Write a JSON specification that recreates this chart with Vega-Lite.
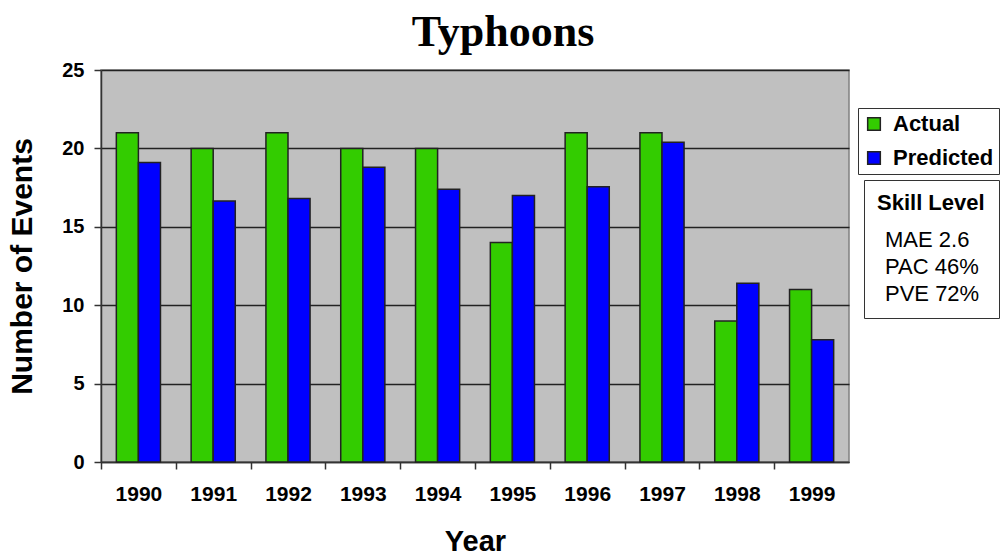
{
  "$schema": "https://vega.github.io/schema/vega-lite/v6.json",
  "width": 748,
  "height": 392,
  "autosize": "none",
  "padding": {"left": 101, "top": 70, "right": 151, "bottom": 97},
  "background": "white",
  "view": {"fill": "#c0c0c0", "stroke": "#808080", "strokeWidth": 1.5},
  "title": {
    "text": "Typhoons",
    "font": "Liberation Serif",
    "fontSize": 44,
    "fontWeight": "bold",
    "color": "black",
    "anchor": "middle",
    "dx": 28,
    "offset": 5
  },
  "config": {
    "view": {"fill": "#c0c0c0", "stroke": "#808080", "strokeWidth": 1.5},
    "font": "Liberation Sans"
  },
  "datasets": {
    "bars": [
      {"year": "1990", "series": "Actual", "events": 21},
      {"year": "1990", "series": "Predicted", "events": 19.1},
      {"year": "1991", "series": "Actual", "events": 20},
      {"year": "1991", "series": "Predicted", "events": 16.65},
      {"year": "1992", "series": "Actual", "events": 21},
      {"year": "1992", "series": "Predicted", "events": 16.8},
      {"year": "1993", "series": "Actual", "events": 20},
      {"year": "1993", "series": "Predicted", "events": 18.8},
      {"year": "1994", "series": "Actual", "events": 20},
      {"year": "1994", "series": "Predicted", "events": 17.4},
      {"year": "1995", "series": "Actual", "events": 14},
      {"year": "1995", "series": "Predicted", "events": 17.0},
      {"year": "1996", "series": "Actual", "events": 21},
      {"year": "1996", "series": "Predicted", "events": 17.55},
      {"year": "1997", "series": "Actual", "events": 21},
      {"year": "1997", "series": "Predicted", "events": 20.4},
      {"year": "1998", "series": "Actual", "events": 9},
      {"year": "1998", "series": "Predicted", "events": 11.4},
      {"year": "1999", "series": "Actual", "events": 11},
      {"year": "1999", "series": "Predicted", "events": 7.8}
    ],
    "skill": [
      {"stat": "MAE  2.6"},
      {"stat": "PAC  46%"},
      {"stat": "PVE  72%"}
    ]
  },
  "layer": [
    {
      "data": {"name": "bars"},
      "mark": {"type": "bar", "stroke": "#222222", "strokeWidth": 1.5},
      "encoding": {
        "x": {
          "field": "year",
          "type": "nominal",
          "scale": {"paddingInner": 0.41, "paddingOuter": 0.205},
          "axis": {
            "title": "Year",
            "titleFontSize": 29,
            "titleFontWeight": "bold",
            "titleColor": "black",
            "titlePadding": 23,
            "labelAngle": 0,
            "labelFontSize": 21,
            "labelFontWeight": "bold",
            "labelColor": "black",
            "labelPadding": 14,
            "labelOffset": 37.4,
            "tickOffset": -37.4,
            "tickSize": 7,
            "tickColor": "#333333",
            "tickWidth": 1.5,
            "domainColor": "#333333",
            "domainWidth": 1.5
          }
        },
        "xOffset": {"field": "series", "type": "nominal", "scale": {"paddingInner": 0, "paddingOuter": 0}},
        "y": {
          "field": "events",
          "type": "quantitative",
          "scale": {"domain": [0, 25], "nice": false},
          "axis": {
            "title": "Number of Events",
            "titleFontSize": 30,
            "titleFontWeight": "bold",
            "titleColor": "black",
            "titlePadding": 24,
            "values": [0, 5, 10, 15, 20, 25],
            "labelFontSize": 20,
            "labelFontWeight": "bold",
            "labelColor": "black",
            "labelPadding": 10,
            "tickSize": 7,
            "tickColor": "#333333",
            "tickWidth": 1.5,
            "domainColor": "#333333",
            "domainWidth": 1.5,
            "grid": true,
            "gridColor": "#222222",
            "gridWidth": 1.5
          }
        },
        "color": {
          "field": "series",
          "type": "nominal",
          "scale": {"domain": ["Actual", "Predicted"], "range": ["#33cc00", "#0000ff"]},
          "legend": {
            "title": null,
            "orient": "none",
            "legendX": 757,
            "legendY": 38,
            "direction": "vertical",
            "fillColor": "white",
            "strokeColor": "#333333",
            "padding": 5,
            "symbolType": "square",
            "symbolSize": 160,
            "symbolStrokeColor": "#222222",
            "symbolStrokeWidth": 1.5,
            "labelFontSize": 22,
            "labelFontWeight": "bold",
            "labelColor": "black",
            "labelOffset": 8,
            "rowPadding": 12
          }
        }
      }
    },
    {
      "data": {"name": "skill"},
      "mark": {"type": "point", "opacity": 0},
      "encoding": {
        "shape": {
          "field": "stat",
          "type": "nominal",
          "legend": {
            "title": "Skill Level",
            "titleFontSize": 22,
            "titleFontWeight": "bold",
            "titleColor": "black",
            "titlePadding": 14,
            "orient": "none",
            "legendX": 763,
            "legendY": 110,
            "direction": "vertical",
            "fillColor": "white",
            "strokeColor": "#333333",
            "padding": 13,
            "symbolSize": 0,
            "symbolOpacity": 0,
            "symbolStrokeWidth": 0,
            "labelFontSize": 22,
            "labelColor": "black",
            "labelOffset": -14,
            "rowPadding": 5
          }
        }
      }
    }
  ]
}
